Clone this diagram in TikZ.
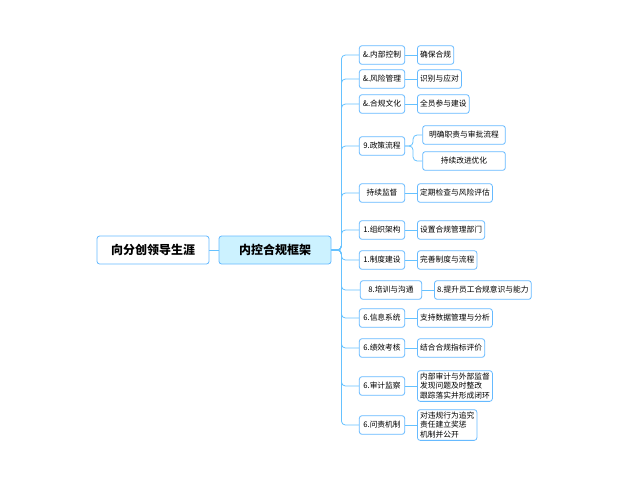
\documentclass[tikz,border=0pt]{standalone}
\usepackage{fontspec}
\setmainfont{Noto Sans CJK SC}
\usetikzlibrary{positioning}
\tikzset{
  box/.style={draw=blue!45!cyan!60, rounded corners=2pt, fill=white, line width=.6pt, inner sep=2pt, minimum height=14pt, font=\fontsize{5.8}{6.8}\selectfont},
  big/.style={box, minimum height=21pt, minimum width=84pt, font=\fontsize{9}{10}\selectfont\bfseries},
  wire/.style={draw=blue!40!cyan!60, line width=.6pt}
}
\begin{document}
\begin{tikzpicture}[x=0.75pt, y=-0.75pt]
  \useasboundingbox (0,0) rectangle (640,480);
  \node (root) [big] at (153,250) {向分创领导生涯};
  \node (core) [big, fill=blue!25!cyan!20] at (275,250) {内控合规框架};
  \draw[wire] (root) -- (core);

  % branch and leaf nodes
  \node (b1) [box, minimum width=34pt] at (382,55) {\&.内部控制};
  \node (l1) [box, right=9pt of b1] {确保合规};
  \node (b2) [box, minimum width=34pt] at (382,79) {\&.风险管理};
  \node (l2) [box, right=9pt of b2] {识别与应对};
  \node (b3) [box, minimum width=34pt] at (382,104) {\&.合规文化};
  \node (l3) [box, right=9pt of b3] {全员参与建设};
  \node (b4) [box, minimum width=34pt] at (382,146) {9.政策流程};
  \node (l4a) [box, minimum width=62pt] at (464,135) {明确职责与审批流程};
  \node (l4b) [box, minimum width=62pt] at (464,161) {持续改进优化};
  \node (b5) [box, minimum width=34pt] at (382,193) {持续监督};
  \node (l5) [box, right=9pt of b5] {定期检查与风险评估};
  \node (b6) [box, minimum width=34pt] at (382,230) {1.组织架构};
  \node (l6) [box, right=9pt of b6] {设置合规管理部门};
  \node (b7) [box, minimum width=34pt] at (382,260) {1.制度建设};
  \node (l7) [box, right=9pt of b7] {完善制度与流程};
  \node (b8) [box, minimum width=46pt] at (391,290) {8.培训与沟通};
  \node (l8) [box, right=9pt of b8] {8.提升员工合规意识与能力};
  \node (b9) [box, minimum width=34pt] at (382,318) {6.信息系统};
  \node (l9) [box, right=9pt of b9] {支持数据管理与分析};
  \node (b10) [box, minimum width=34pt] at (382,348) {6.绩效考核};
  \node (l10) [box, right=9pt of b10] {结合合规指标评价};
  \node (b11) [box, minimum width=34pt] at (382,386) {6.审计监察};
  \node (l11) [box, align=left, right=9pt of b11] {内部审计与外部监督\\发现问题及时整改\\跟踪落实并形成闭环};
  \node (b12) [box, minimum width=34pt] at (382,425) {6.问责机制};
  \node (l12) [box, align=left, right=9pt of b12] {对违规行为追究\\责任建立奖惩\\机制并公开};

  % connectors
  \foreach \b in {b1,b2,b3,b4,b5,b6,b7,b8,b9,b10,b11,b12}
    \draw[wire, rounded corners=3pt] (core.east) -- ++(10,0) |- (\b.west);
  \foreach \b/\l in {b1/l1,b2/l2,b3/l3,b5/l5,b6/l6,b7/l7,b8/l8,b9/l9,b10/l10,b11/l11,b12/l12}
    \draw[wire] (\b) -- (\l);
  \draw[wire, rounded corners=3pt] (b4.east) -- ++(8,0) |- (l4a.west);
  \draw[wire, rounded corners=3pt] (b4.east) -- ++(8,0) |- (l4b.west);
\end{tikzpicture}
\end{document}
